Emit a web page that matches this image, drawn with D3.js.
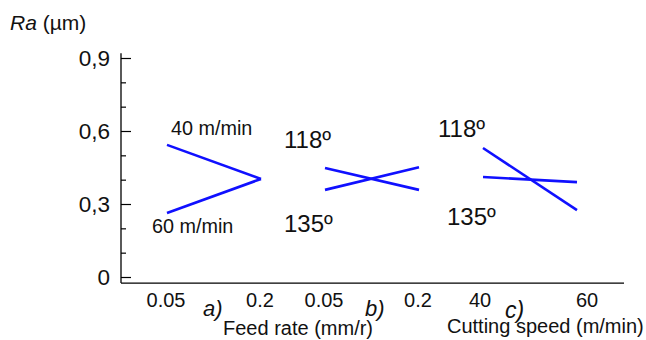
<!DOCTYPE html>
<html>
<head>
<meta charset="utf-8">
<script src="https://cdn.jsdelivr.net/npm/d3@7"></script>
<style>
  body { margin: 0; background: #fff; }
  svg { display: block; }
  text { font-family: Arial, "Liberation Sans", sans-serif; fill: #111; }
</style>
</head>
<body>
<div id="chart"></div>
<script>
// y axis
const yTicks = [0, 0.3, 0.6, 0.9];
const yMinorTicks = [0.1, 0.2, 0.4, 0.5, 0.7, 0.8];

// a) feed rate, two cutting speeds
const feedLevels = ['0.05', '0.2'];
const speed40 = [0.543, 0.403];
const speed60 = [0.263, 0.403];

// b) feed rate, two point angles
const feedAngle118 = [0.448, 0.358];
const feedAngle135 = [0.358, 0.451];

// c) cutting speed, two point angles
const speedLevels = ['40', '60'];
const speedAngle118 = [0.530, 0.275];
const speedAngle135 = [0.411, 0.390];

const width = 646;
const height = 340;

const svg = d3.select('#chart')
  .append('svg')
  .attr('width', width)
  .attr('height', height);

const y = d3.scaleLinear().domain([0, 0.9]).range([277, 58]);
const axisX = 121;

// the three panels each get their own point scale
const xa = d3.scalePoint().domain(feedLevels).range([167, 261]);
const xb = d3.scalePoint().domain(feedLevels).range([325, 419]);
const xc = d3.scalePoint().domain(speedLevels).range([483, 577]);

// axis lines
svg.append('line')
  .attr('x1', axisX).attr('x2', axisX)
  .attr('y1', y(0.92)).attr('y2', y(-0.025))
  .attr('stroke', '#000').attr('stroke-width', 1.3);
svg.append('line')
  .attr('x1', axisX).attr('x2', 624)
  .attr('y1', y(-0.025)).attr('y2', y(-0.025))
  .attr('stroke', '#000').attr('stroke-width', 1.3);

const fmt = (d) => (d === 0 ? '0' : d3.format('.1f')(d).replace('.', ','));

const yAxis = svg.append('g')
  .attr('transform', `translate(${axisX},0)`)
  .call(d3.axisLeft(y).tickValues(yTicks).tickSizeInner(-10).tickSizeOuter(0)
    .tickPadding(11).tickFormat(fmt));
yAxis.select('.domain').remove();
yAxis.selectAll('line').attr('stroke', '#000').attr('stroke-width', 1.2);
yAxis.selectAll('text')
  .attr('font-family', 'Arial, "Liberation Sans", sans-serif')
  .attr('font-size', 22.5).attr('fill', '#111');

const yMinor = svg.append('g')
  .attr('transform', `translate(${axisX},0)`)
  .call(d3.axisLeft(y).tickValues(yMinorTicks).tickSizeInner(-5).tickSizeOuter(0)
    .tickFormat(''));
yMinor.select('.domain').remove();
yMinor.selectAll('line').attr('stroke', '#000').attr('stroke-width', 1.2);

svg.append('text')
  .attr('x', 10).attr('y', 30)
  .attr('font-size', 21)
  .html('<tspan font-style="italic">Ra</tspan> (µm)');

// x tick labels, per panel
function tickLabels(scale, nudge) {
  svg.append('g').selectAll('text')
    .data(scale.domain())
    .join('text')
    .attr('x', (d, i) => scale(d) + (nudge ? nudge[i] : 0) - 1)
    .attr('y', 307)
    .attr('text-anchor', 'middle')
    .attr('font-size', 20)
    .text((d) => d);
}
tickLabels(xa);
tickLabels(xb);
tickLabels(xc, [-2, 11]);

// the lines
const line = (scale) => d3.line()
  .x((d, i) => scale(scale.domain()[i]))
  .y((d) => y(d));

const series = [
  [xa, speed40], [xa, speed60],
  [xb, feedAngle118], [xb, feedAngle135],
  [xc, speedAngle118], [xc, speedAngle135],
];
svg.append('g').selectAll('path')
  .data(series)
  .join('path')
  .attr('d', (s) => line(s[0])(s[1]))
  .attr('fill', 'none')
  .attr('stroke', '#1010ff')
  .attr('stroke-width', 2.6);

// series labels
const speedNames = [
  ['40 m/min', 171, 135],
  ['60 m/min', 152, 233],
];
svg.append('g').selectAll('text')
  .data(speedNames)
  .join('text')
  .attr('x', (d) => d[1])
  .attr('y', (d) => d[2])
  .attr('font-size', 19.8)
  .text((d) => d[0]);

const angles = [
  ['118º', 284, 148],
  ['135º', 284, 232],
  ['118º', 438, 137],
  ['135º', 447, 225],
];
svg.append('g').selectAll('text')
  .data(angles)
  .join('text')
  .attr('x', (d) => d[1])
  .attr('y', (d) => d[2])
  .attr('font-family', 'Lato, "Open Sans", sans-serif')
  .attr('font-size', 24)
  .text((d) => d[0]);

// panel letters
svg.append('text').attr('x', 203).attr('y', 316)
  .attr('font-size', 22).attr('font-style', 'italic').text('a)');
svg.append('text').attr('x', 365).attr('y', 316)
  .attr('font-size', 22).attr('font-style', 'italic').text('b)');
svg.append('text').attr('x', 505).attr('y', 318)
  .attr('font-family', 'Lato, sans-serif')
  .attr('font-size', 23).attr('font-style', 'italic').text('c)');

// axis titles
svg.append('text').attr('x', 223).attr('y', 335)
  .attr('font-size', 20).text('Feed rate (mm/r)');
svg.append('text').attr('x', 447).attr('y', 333)
  .attr('font-size', 20).text('Cutting speed (m/min)');
</script>
</body>
</html>
